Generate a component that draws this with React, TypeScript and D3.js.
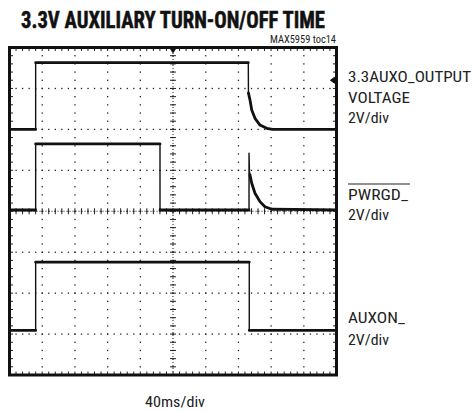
import React from "react";
import * as d3 from "d3";

// time in ms (trigger at 0), voltage in V
const auxoT = [-200, -168, -168, 92.1, 92.3, 94.2, 96.3, 100.3, 106.4, 114.6, 122, 200];
const auxoV = [0, 0, 3.26, 3.26, 1.78, 1.43, 0.95, 0.54, 0.21, 0.05, 0, 0];

const pwrgdT = [-200, -168, -168, -15.9, -15.9, 93.0, 93.0, 93.5, 94.2, 96.3, 100.3, 106.4, 112.5, 120.7, 200];
const pwrgdV = [0, 0, 3.23, 3.23, 0, 0, 2.77, 1.9, 1.71, 1.31, 0.82, 0.41, 0.16, 0.04, 0];

const auxonT = [-200, -168, -168, 93.3, 93.3, 200];
const auxonV = [0, 0, 3.33, 3.33, 0, 0];

const channelNames = ["3.3AUXO_OUTPUT", "PWRGD_", "AUXON_"];
const channelOffsets = [2.0, 0.03, -2.91]; // ground position, in divisions
const voltsPerDiv = 2;

const W = 473;
const H = 411;
const font = "'Liberation Sans Narrow', 'Roboto Condensed', 'DejaVu Sans Condensed', Roboto, Arial, sans-serif";

export default function App() {
  const x = d3.scaleLinear().domain([-200, 200]).range([9.5, 336.5]);
  const y = d3.scaleLinear().domain([-4, 4]).range([375, 47.5]);

  const majorX = d3.range(-160, 161, 40);
  const majorY = d3.range(-3, 4, 1);
  const minorX = d3.range(-200, 200.01, 8);
  const minorY = d3.range(-4, 4.001, 0.2);

  const traces = [
    { t: auxoT, v: auxoV, off: channelOffsets[0] },
    { t: pwrgdT, v: pwrgdV, off: channelOffsets[1] },
    { t: auxonT, v: auxonV, off: channelOffsets[2] },
  ].map((c) => c.t.map((t, i) => [x(t), y(c.off + c.v[i] / voltsPerDiv)] as [number, number]));

  const line = d3.line();

  // slow stretches are drawn heavier, like the scope's beam; fast edges stay thin
  const slow = traces.map((pts) => {
    const segs = pts.slice(1).map((p, i) => [pts[i], p]);
    return segs.filter(([a, b]) => Math.abs(a[0] - b[0]) > 0.8).map((s) => line(s) ?? "").join(" ");
  });

  const dots: [number, number][] = [];
  majorX.forEach((t) => minorY.forEach((v) => dots.push([x(t), y(v)])));
  majorY.forEach((v) => minorX.forEach((t) => dots.push([x(t), y(v)])));

  return (
    <svg width={W} height={H} style={{ position: "absolute", left: 0, top: 0, background: "#fff" }}>
      <text x={21} y={28} fontFamily={font} fontWeight="bold" fontSize={23} textLength={304} lengthAdjust="spacingAndGlyphs" fill="#111" stroke="#111" strokeWidth={0.5}>
        3.3V AUXILIARY TURN-ON/OFF TIME
      </text>
      <text x={336} y={43} textAnchor="end" fontFamily={font} fontSize={10.5} textLength={66} lengthAdjust="spacingAndGlyphs" fill="#222">
        MAX5959 toc14
      </text>

      {/* graticule dots */}
      <g fill="#222">
        {dots.map(([cx, cy], i) => (
          <rect key={i} x={cx - 0.6} y={cy - 0.6} width={1.3} height={1.3} />
        ))}
      </g>

      {/* center axes with minor ticks */}
      <g stroke="#222" strokeWidth={1}>
        <line x1={x(0)} x2={x(0)} y1={y(-4)} y2={y(4)} strokeDasharray="1 2" />
        <line x1={x(-200)} x2={x(200)} y1={y(0)} y2={y(0)} strokeDasharray="1 2" />
        {minorY.map((v, i) => (
          <line key={"cy" + i} x1={x(0) - 3} x2={x(0) + 3} y1={y(v)} y2={y(v)} />
        ))}
        {minorX.map((t, i) => (
          <line key={"cx" + i} x1={x(t)} x2={x(t)} y1={y(0) - 3} y2={y(0) + 3} />
        ))}
        {/* frame minor ticks */}
        {minorX.map((t, i) => (
          <g key={"fx" + i}>
            <line x1={x(t)} x2={x(t)} y1={y(4)} y2={y(4) + 3.5} />
            <line x1={x(t)} x2={x(t)} y1={y(-4)} y2={y(-4) - 3.5} />
          </g>
        ))}
        {minorY.map((v, i) => (
          <g key={"fy" + i}>
            <line x1={x(-200)} x2={x(-200) + 3.5} y1={y(v)} y2={y(v)} />
            <line x1={x(200)} x2={x(200) - 3.5} y1={y(v)} y2={y(v)} />
          </g>
        ))}
      </g>

      {/* traces */}
      <g fill="none" stroke="#111" strokeLinejoin="round" strokeLinecap="round">
        {traces.map((pts, i) => (
          <path key={i} d={line(pts) ?? ""} strokeWidth={1.4} />
        ))}
        {slow.map((d, i) => (
          <path key={"s" + i} d={d} strokeWidth={2.8} />
        ))}
      </g>

      {/* frame */}
      <rect x={x(-200)} y={y(4)} width={x(200) - x(-200)} height={y(-4) - y(4)} fill="none" stroke="#111" strokeWidth={3} />

      {/* trigger position and level markers */}
      <path d={`M${x(0) - 4},${y(4)} L${x(0) + 4},${y(4)} L${x(0)},${y(4) + 6} Z`} fill="#111" />
      <path
        d={`M${x(200) - 6},${y(3.2)} l4,-3 v6 Z M${x(200) - 4},${y(3.2)} H${x(200)}`}
        fill="#111"
        stroke="#111"
        strokeWidth={1}
      />

      {/* channel labels */}
      <g fontFamily={font} fontSize={15} fill="#222">
        <text x={348} y={82} textLength={123} lengthAdjust="spacingAndGlyphs">{channelNames[0]}</text>
        <text x={348} y={103} textLength={62} lengthAdjust="spacingAndGlyphs">VOLTAGE</text>
        <text x={348} y={123} textLength={41} lengthAdjust="spacingAndGlyphs">2V/div</text>

        <line x1={348} x2={410} y1={184} y2={184} stroke="#222" strokeWidth={1} />
        <text x={348} y={200} textLength={60} lengthAdjust="spacingAndGlyphs">{channelNames[1]}</text>
        <text x={348} y={220} textLength={41} lengthAdjust="spacingAndGlyphs">2V/div</text>

        <text x={348} y={323} textLength={57} lengthAdjust="spacingAndGlyphs">{channelNames[2]}</text>
        <text x={348} y={345} textLength={41} lengthAdjust="spacingAndGlyphs">2V/div</text>
      </g>

      <text x={175} y={407} textAnchor="middle" fontFamily={font} fontSize={15} textLength={60} lengthAdjust="spacingAndGlyphs" fill="#222">
        40ms/div
      </text>
    </svg>
  );
}
